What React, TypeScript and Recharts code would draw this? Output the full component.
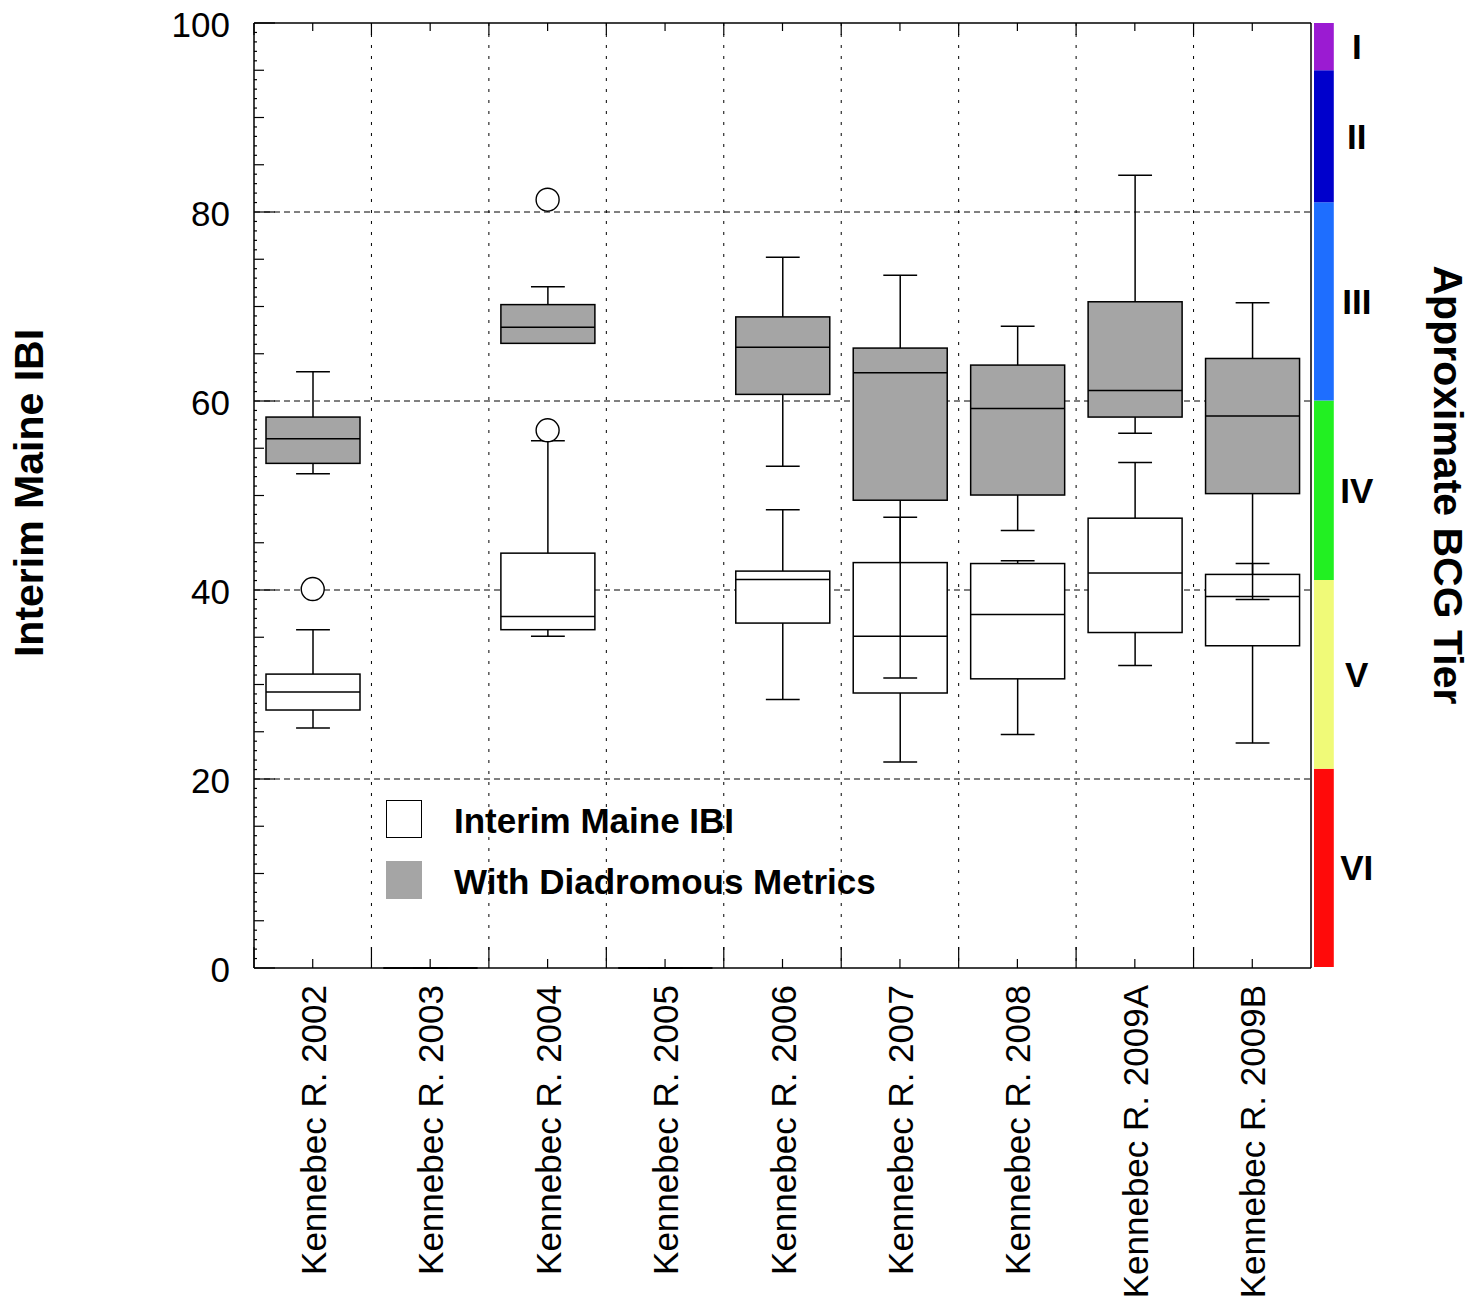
import {
	ComposedChart,
	BarChart,
	Bar,
	Scatter,
	XAxis,
	YAxis,
	CartesianGrid,
	Legend,
	LabelList,
} from "recharts";

const FONT = '"Liberation Sans", Arial, Helvetica, sans-serif';

const categories = [
	"Kennebec R. 2002",
	"Kennebec R. 2003",
	"Kennebec R. 2004",
	"Kennebec R. 2005",
	"Kennebec R. 2006",
	"Kennebec R. 2007",
	"Kennebec R. 2008",
	"Kennebec R. 2009A",
	"Kennebec R. 2009B",
];

// [min, q1, median, q3, max]
const interimBoxes = [
	[25.4, 27.3, 29.2, 31.1, 35.8],
	[0, 0, 0, 0, 0],
	[35.1, 35.8, 37.2, 43.9, 55.8],
	[0, 0, 0, 0, 0],
	[28.4, 36.5, 41.1, 42.0, 48.5],
	[21.8, 29.1, 35.1, 42.9, 47.7],
	[24.7, 30.6, 37.4, 42.8, 43.1],
	[32.0, 35.5, 41.8, 47.6, 53.5],
	[23.8, 34.1, 39.3, 41.65, 42.8],
];

const diadromousBoxes = [
	[52.3, 53.4, 56.0, 58.3, 63.1],
	[0, 0, 0, 0, 0],
	[66.1, 66.1, 67.8, 70.2, 72.1],
	[0, 0, 0, 0, 0],
	[53.1, 60.7, 65.7, 68.9, 75.2],
	[30.7, 49.5, 63.0, 65.6, 73.3],
	[46.3, 50.05, 59.2, 63.8, 67.9],
	[56.6, 58.3, 61.1, 70.5, 83.9],
	[39.0, 50.2, 58.4, 64.5, 70.4],
];

const interimOutliers = [40.1, null, 56.9, null, null, null, null, null, null];
const diadromousOutliers = [null, null, 81.3, null, null, null, null, null, null];

const tierNames = ["VI", "V", "IV", "III", "II", "I"];
const tierLow = [0, 21, 41, 60, 81, 95];
const tierHigh = [21, 41, 60, 81, 95, 100];
const tierColors = ["#ff0a0a", "#f0fa78", "#22f022", "#1e6eff", "#0000cc", "#9b1bd2"];

const yTicks = Array.from({ length: 101 }, (_, i) => i);
const yLabels = [0, 20, 40, 60, 80, 100];
const gridValues = [20, 40, 60, 80];
const legendLabels = ["Interim Maine IBI", "With Diadromous Metrics"];
const legendFills = ["#ffffff", "#a5a5a5"];

const data = categories.map((cat, i) => ({
	cat,
	interim: interimBoxes[i],
	diadromous: diadromousBoxes[i],
	interimOut: interimOutliers[i],
	diadromousOut: diadromousOutliers[i],
}));

const tierRow: Record<string, string | number> = { k: "tier" };
tierNames.forEach((n, i) => {
	tierRow[n] = tierHigh[i] - tierLow[i];
});

// layout
const W = 1472;
const H = 1303;
const PLOT_LEFT = 254;
const PLOT_TOP = 23;
const PLOT_RIGHT = 1311;
const PLOT_BOTTOM = 968;
const BAND = (PLOT_RIGHT - PLOT_LEFT) / categories.length;

function BoxShape(props: any) {
	const { x, y, width, height, payload, boxKey, boxFill } = props;
	const box = payload && payload[boxKey];
	if (!box) return null;
	const [lo, q1, med, q3, hi] = box;
	const span = hi - lo;
	const py = (v: number) => (span === 0 ? y : y + (height * (hi - v)) / span);
	const cx = x + width / 2;
	const cap = width * 0.18;
	return (
		<g stroke="#000" strokeWidth={1.5}>
			<line x1={cx} x2={cx} y1={py(hi)} y2={py(lo)} />
			<line x1={cx - cap} x2={cx + cap} y1={py(hi)} y2={py(hi)} />
			<line x1={cx - cap} x2={cx + cap} y1={py(lo)} y2={py(lo)} />
			<rect x={x} y={py(q3)} width={width} height={Math.max(py(q1) - py(q3), 0)} fill={boxFill} />
			<line x1={x} x2={x + width} y1={py(med)} y2={py(med)} />
		</g>
	);
}

function OutlierShape(props: any) {
	const { cx, cy, payload, outKey } = props;
	if (!payload || payload[outKey] == null || cx == null || cy == null) return null;
	return <circle cx={cx} cy={cy} r={11.5} fill="#fff" stroke="#000" strokeWidth={1.4} />;
}

function LeftTick(props: any) {
	const { x, y, payload } = props;
	const v = payload.value;
	const len = v % 20 === 0 ? 21 : v % 5 === 0 ? 10 : 3;
	return (
		<g>
			<line x1={x} x2={x + len} y1={y} y2={y} stroke="#000" strokeWidth={1.2} />
			{yLabels.includes(v) && (
				<text x={x - 24} y={y} dy="0.4em" textAnchor="end" fontSize={35} fontFamily={FONT} fill="#000">
					{v}
				</text>
			)}
		</g>
	);
}

function RightTick(props: any) {
	const { x, y, payload } = props;
	const v = payload.value;
	const len = v % 20 === 0 ? 21 : v % 5 === 0 ? 10 : 3;
	return <line x1={x} x2={x - len} y1={y} y2={y} stroke="#000" strokeWidth={1.2} />;
}

function BottomTick(props: any) {
	const { x, y, payload } = props;
	const tx = x + 13;
	const ty = y + 17;
	return (
		<g>
			<line x1={x} x2={x} y1={y} y2={y - 9} stroke="#000" strokeWidth={1.2} />
			<line x1={x - BAND / 2} x2={x - BAND / 2} y1={y} y2={y - 21} stroke="#000" strokeWidth={1.2} />
			<text
				x={tx}
				y={ty}
				transform={`rotate(-90 ${tx} ${ty})`}
				textAnchor="end"
				fontSize={35}
				fontFamily={FONT}
				fill="#000"
			>
				{payload.value}
			</text>
		</g>
	);
}

function TopTick(props: any) {
	const { x, y } = props;
	return (
		<g>
			<line x1={x} x2={x} y1={y} y2={y + 8} stroke="#000" strokeWidth={1.2} />
			<line x1={x - BAND / 2} x2={x - BAND / 2} y1={y} y2={y + 12} stroke="#000" strokeWidth={1.2} />
		</g>
	);
}

function LegendBox() {
	return (
		<div style={{ fontFamily: FONT, fontWeight: "bold", fontSize: 35, color: "#000", lineHeight: "38px" }}>
			{legendLabels.map((label, i) => (
				<div
					key={label}
					style={{ display: "flex", alignItems: "center", height: 38, marginBottom: i === 0 ? 23 : 0 }}
				>
					<span
						style={{
							display: "inline-block",
							width: 36,
							height: 38,
							boxSizing: "border-box",
							border: i === 0 ? "1.5px solid #000" : "none",
							background: legendFills[i],
						}}
					/>
					<span style={{ marginLeft: 32, paddingTop: 3, whiteSpace: "nowrap" }}>{label}</span>
				</div>
			))}
		</div>
	);
}

function TierLabel(props: any) {
	const vb = props.viewBox ?? props;
	const cx = vb.x + vb.width + 23;
	const cy = vb.y + vb.height / 2;
	return (
		<text x={cx} y={cy} dy="0.36em" textAnchor="middle" fontSize={35} fontWeight="bold" fontFamily={FONT} fill="#000">
			{props.tier}
		</text>
	);
}

function TierBand() {
	return (
		<BarChart
			width={100}
			height={H}
			data={[tierRow]}
			margin={{ top: PLOT_TOP, right: 65, bottom: H - PLOT_BOTTOM + 1, left: PLOT_RIGHT + 2 - 1300 }}
			barCategoryGap={0}
		>
			<XAxis dataKey="k" hide />
			<YAxis type="number" domain={[0, 100]} hide />
			{tierNames.map((n, i) => (
				<Bar key={n} dataKey={n} stackId="tier" fill={tierColors[i]} barSize={22} isAnimationActive={false}>
					<LabelList dataKey={n} content={(p: any) => <TierLabel {...p} tier={n} />} />
				</Bar>
			))}
		</BarChart>
	);
}

export default function App() {
	return (
		<div style={{ position: "absolute", left: 0, top: 0, width: W, height: H, background: "#fff" }}>
			<ComposedChart
				width={W}
				height={H}
				data={data}
				margin={{ top: PLOT_TOP - 1, right: W - PLOT_RIGHT - 1, bottom: H - PLOT_BOTTOM - 300, left: PLOT_LEFT - 60 }}
				style={{ fontFamily: FONT }}
			>
				<CartesianGrid vertical={false} horizontalValues={gridValues} stroke="#000" strokeDasharray="6 4" />
				<CartesianGrid
					horizontal={false}
					stroke="#000"
					strokeDasharray="3 8"
					verticalCoordinatesGenerator={({ offset }: any) =>
						categories.slice(1).map((_, i) => offset.left + ((i + 1) * offset.width) / categories.length)
					}
				/>
				<XAxis
					dataKey="cat"
					height={300}
					interval={0}
					tickSize={0}
					tickMargin={0}
					tickLine={false}
					tick={(p: any) => <BottomTick {...p} />}
					axisLine={{ stroke: "#000", strokeWidth: 1.5 }}
				/>
				<XAxis
					xAxisId="top"
					orientation="top"
					dataKey="cat"
					height={1}
					interval={0}
					tickSize={0}
					tickMargin={0}
					tickLine={false}
					tick={(p: any) => <TopTick {...p} />}
					axisLine={{ stroke: "#000", strokeWidth: 1.5 }}
				/>
				<YAxis
					type="number"
					domain={[0, 100]}
					ticks={yTicks}
					interval={0}
					width={60}
					tickSize={0}
					tickMargin={0}
					tickLine={false}
					tick={(p: any) => <LeftTick {...p} />}
					axisLine={{ stroke: "#000", strokeWidth: 1.5 }}
					label={() => (
						<text
							x={43}
							y={493}
							transform="rotate(-90 43 493)"
							textAnchor="middle"
							fontSize={41}
							fontWeight="bold"
							fontFamily={FONT}
							fill="#000"
						>
							Interim Maine IBI
						</text>
					)}
				/>
				<YAxis
					yAxisId="right"
					orientation="right"
					type="number"
					domain={[0, 100]}
					ticks={yTicks}
					interval={0}
					width={1}
					tickSize={0}
					tickMargin={0}
					tickLine={false}
					tick={(p: any) => <RightTick {...p} />}
					axisLine={{ stroke: "#000", strokeWidth: 1.5 }}
					label={() => (
						<text
							x={1434}
							y={485}
							transform="rotate(90 1434 485)"
							textAnchor="middle"
							fontSize={41}
							fontWeight="bold"
							fontFamily={FONT}
							fill="#000"
						>
							Approximate BCG Tier
						</text>
					)}
				/>
				<Bar
					name={legendLabels[0]}
					dataKey={(d: any) => [d.interim[0], d.interim[4]]}
					barSize={94}
					fill="#fff"
					isAnimationActive={false}
					shape={(p: any) => <BoxShape {...p} boxKey="interim" boxFill="#ffffff" />}
				/>
				<Bar
					name={legendLabels[1]}
					xAxisId="top"
					dataKey={(d: any) => [d.diadromous[0], d.diadromous[4]]}
					barSize={94}
					fill="#a5a5a5"
					isAnimationActive={false}
					shape={(p: any) => <BoxShape {...p} boxKey="diadromous" boxFill="#a5a5a5" />}
				/>
				<Scatter
					dataKey="interimOut"
					isAnimationActive={false}
					shape={(p: any) => <OutlierShape {...p} outKey="interimOut" />}
				/>
				<Scatter
					dataKey="diadromousOut"
					isAnimationActive={false}
					shape={(p: any) => <OutlierShape {...p} outKey="diadromousOut" />}
				/>
				<Legend
					layout="horizontal"
					verticalAlign="middle"
					align="center"
					wrapperStyle={{ left: 386, top: 800, width: 560, height: 100 }}
					content={() => <LegendBox />}
				/>
			</ComposedChart>
			<div style={{ position: "absolute", left: 1300, top: 0 }}>
				<TierBand />
			</div>
		</div>
	);
}
